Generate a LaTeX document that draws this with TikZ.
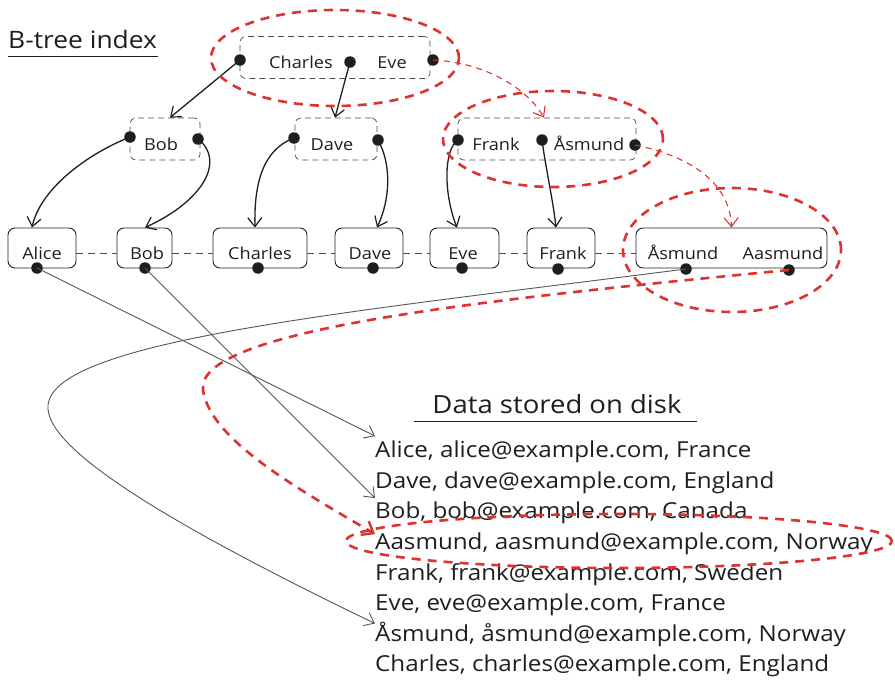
\documentclass[tikz,border=0pt]{standalone}
\usepackage{fontspec}
\setmainfont{Open Sans}[FakeStretch=1.1]
\usetikzlibrary{arrows.meta,shapes.geometric}
\definecolor{ink}{HTML}{1E1E1E}
\definecolor{hlred}{HTML}{E03131}
\tikzset{
  inner/.style={draw=ink!80, dashed, dash pattern=on 6pt off 4pt, line width=0.7pt,
    rounded corners=6pt, minimum height=42pt, inner sep=0pt},
  leaf/.style={draw=ink, line width=0.9pt, rounded corners=7pt, minimum height=40pt, inner sep=0pt},
  lbl/.style={font=\fontsize{16.5}{16.5}\selectfont, text=ink, anchor=base, inner sep=0pt},
  row/.style={font=\fontsize{22}{22}\selectfont, text=ink, anchor=base west, inner sep=0pt},
  dot/.style={circle, fill=ink, inner sep=0pt, minimum size=11.5pt},
  ring/.style={draw=hlred, line width=2.6pt, dash pattern=on 9pt off 7pt, ellipse, inner sep=0pt},
  ptr/.style={draw=ink, line width=1.3pt, -{Straight Barb[length=9pt,width=14pt,line width=1.2pt]}},
  redptr/.style={draw=hlred, line width=1.1pt, dash pattern=on 6pt off 5pt,
    -{Straight Barb[length=9pt,width=14pt,line width=1.1pt]}},
  bigred/.style={draw=hlred, line width=2.6pt, dash pattern=on 9pt off 7pt,
    -{Straight Barb[length=10pt,width=16pt,line width=2.4pt]}},
  rec/.style={draw=ink!75, line width=0.9pt, -{Straight Barb[length=9pt,width=14pt,line width=0.9pt]}},
  sibling/.style={draw=ink!80, line width=0.8pt, dash pattern=on 7pt off 5pt},
}
\begin{document}
\begin{tikzpicture}[x=1pt,y=-1pt]
\useasboundingbox (0,0) rectangle (895,680);

% ---------- title ----------
\node[font=\fontsize{24}{24}\selectfont, anchor=base west, inner sep=0pt, text=ink] (title) at (8,48) {B-tree index};
\draw[ink, line width=1pt] (8,56) -- (158,56);

% ---------- root page ----------
\node[inner, minimum width=190pt] (root) at (335,57.5) {};
\node[lbl] (rootC) at (301,68) {Charles};
\node[lbl] (rootE) at (392,68) {Eve};
\node[dot] (r0) at (240,60) {};
\node[dot] (r1) at (350,62) {};
\node[dot] (r2) at (433,60) {};

% ---------- second level pages ----------
\node[inner, minimum width=70pt] (pB) at (165,139) {};
\node[lbl] (pBt) at (161,150) {Bob};
\node[dot] (b0) at (130,137) {};
\node[dot] (b1) at (198,139) {};

\node[inner, minimum width=82pt] (pD) at (336,139) {};
\node[lbl] (pDt) at (332,150) {Dave};
\node[dot] (d0) at (294,138) {};
\node[dot] (d1) at (378,140) {};

\node[inner, minimum width=178pt] (pF) at (547,139) {};
\node[lbl] (pFt) at (496,150) {Frank};
\node[lbl] (pAt) at (589,150) {Åsmund};
\node[dot] (f0) at (458,140) {};
\node[dot] (f1) at (542,140) {};
\node[dot] (f2) at (635,145) {};

% ---------- leaf pages ----------
\node[leaf, minimum width=68pt] (lAlice) at (42,248) {};
\node[leaf, minimum width=55pt] (lBob) at (144.5,248) {};
\node[leaf, minimum width=94pt] (lCharles) at (260,248) {};
\node[leaf, minimum width=68pt] (lDave) at (369,248) {};
\node[leaf, minimum width=69pt] (lEve) at (464.5,248) {};
\node[leaf, minimum width=68pt] (lFrank) at (561,248) {};
\node[leaf, minimum width=191pt] (lAs) at (731.5,248) {};

\node[lbl] at (42,259) {Alice};
\node[lbl] at (147,259) {Bob};
\node[lbl] at (260,259) {Charles};
\node[lbl] at (370,259) {Dave};
\node[lbl] at (463,259) {Eve};
\node[lbl] at (563,259) {Frank};
\node[lbl] at (683,259) {Åsmund};
\node[lbl] at (783,259) {Aasmund};

\node[dot] (e1) at (37,268) {};
\node[dot] (e2) at (145,268) {};
\node[dot] (e3) at (258,268) {};
\node[dot] (e4) at (373,268) {};
\node[dot] (e5) at (462,268) {};
\node[dot] (e6) at (558,269) {};
\node[dot] (e7) at (686,269) {};
\node[dot] (e8) at (789,270) {};

% sibling links between leaves
\foreach \a/\b in {lAlice/lBob,lBob/lCharles,lCharles/lDave,lDave/lEve,lEve/lFrank,lFrank/lAs}
  \draw[sibling] ([yshift=-5pt]\a.east) -- ([yshift=-5pt]\b.west);

% ---------- tree pointers ----------
\draw[ptr] (r0.center) -- ([xshift=5pt]pB.north);
\draw[ptr] (r1.center) -- ([xshift=-1pt]pD.north);
\draw[ptr] (b0.center) .. controls (85,155) and (40,190) .. ([xshift=-10pt]lAlice.north);
\draw[ptr] (b1.center) .. controls (225,160) and (205,200) .. ([xshift=0.5pt]lBob.north);
\draw[ptr] (d0.center) .. controls (262,150) and (254,185) .. ([xshift=-5pt]lCharles.north);
\draw[ptr] (d1.center) .. controls (392,165) and (390,200) .. ([xshift=8pt]lDave.north);
\draw[ptr] (f0.center) .. controls (443,150) and (444,195) .. ([xshift=-7.5pt]lEve.north);
\draw[ptr] (f1.center) .. controls (546,170) and (553,200) .. ([xshift=-5pt]lFrank.north);

% ---------- lookup path ----------
\draw[redptr] (r2.center) .. controls (480,62) and (525,85) .. ([xshift=-3pt]pF.north);
\draw[redptr] (f2.center) .. controls (685,155) and (730,180) .. ([xshift=0pt]lAs.north);

\node[ring, minimum width=248pt, minimum height=96pt] (ring1) at (335,58) {};
\node[ring, minimum width=220pt, minimum height=96pt] (ring2) at (553,139) {};
\node[ring, minimum width=218pt, minimum height=124pt] (ring3) at (732,250) {};

% ---------- data on disk ----------
\node[font=\fontsize{25}{25}\selectfont, anchor=base, inner sep=0pt, text=ink] (dtitle) at (557,413) {Data stored on disk};
\draw[ink, line width=1pt] (414,421) -- (697,421);

\node[row] (dAlice) at (375,457) {Alice, alice@example.com, France};
\node[row] (dDave) at (375,488) {Dave, dave@example.com, England};
\node[row] (dBob) at (375,518) {Bob, bob@example.com, Canada};
\node[row] (dAa) at (375,549) {Aasmund, aasmund@example.com, Norway};
\node[row] (dFrank) at (375,580) {Frank, frank@example.com, Sweden};
\node[row] (dEve) at (375,610) {Eve, eve@example.com, France};
\node[row] (dAs) at (375,641) {Åsmund, åsmund@example.com, Norway};
\node[row] (dCharles) at (375,671) {Charles, charles@example.com, England};

\node[ring, minimum width=546pt, minimum height=54pt] (ring4) at (619,541) {};

% ---------- record pointers ----------
\draw[rec] (e1.center) -- ([yshift=4pt]dAlice.north west);
\draw[rec] (e2.center) -- ([yshift=3pt]dBob.north west);
\draw[rec] (e7.center) .. controls (350,312) and (55,340) .. (48,405)
  .. controls (44,445) and (150,515) .. ([yshift=-2pt]dAs.north west);
\draw[bigred] (e8.center) .. controls (480,300) and (195,330) .. (203,390)
  .. controls (210,440) and (300,490) .. ([yshift=-2pt]dAa.north west);
\end{tikzpicture}
\end{document}
